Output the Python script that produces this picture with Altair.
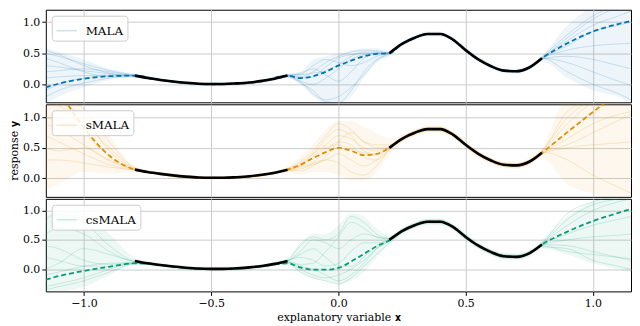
import altair as alt
import pandas as pd

# ---------------- data ----------------
X_GRID = [-1.15, -1.1, -1.0, -0.9, -0.8, -0.7, -0.6, -0.5, -0.4, -0.3, -0.2, -0.15, -0.1, -0.05,
          0.0, 0.05, 0.1, 0.15, 0.2, 0.25, 0.3, 0.35, 0.4, 0.45, 0.5, 0.55, 0.6, 0.65, 0.7, 0.75,
          0.8, 0.9, 1.0, 1.1, 1.15]

TRUE_LEFT_X = [-0.8, -0.75, -0.7, -0.65, -0.6, -0.55, -0.5, -0.45, -0.4, -0.35, -0.3, -0.25, -0.2]
TRUE_LEFT_Y = [0.14, 0.10, 0.07, 0.045, 0.025, 0.01, 0.005, 0.005, 0.015, 0.03, 0.055, 0.09, 0.14]
TRUE_RIGHT_X = [0.2, 0.25, 0.3, 0.35, 0.4, 0.45, 0.5, 0.55, 0.6, 0.65, 0.7, 0.75, 0.8]
TRUE_RIGHT_Y = [0.5, 0.65, 0.75, 0.81, 0.81, 0.72, 0.55, 0.40, 0.29, 0.22, 0.21, 0.27, 0.42]

METHODS = ["MALA", "sMALA", "csMALA"]
COLORS = ["#0173B2", "#DE8F05", "#029E73"]
Y_DOMAINS = [[-0.29, 1.2], [-0.31, 1.22], [-0.38, 1.2]]

MALA_MEAN = [-0.05, 0.01, 0.09, 0.13, 0.14, 0.07, 0.02, 0.0, 0.01, 0.05, 0.14, 0.10, 0.13, 0.20, 0.30, 0.38, 0.45, 0.49, 0.50, 0.65, 0.75, 0.81, 0.81, 0.72, 0.55, 0.40, 0.29, 0.22, 0.21, 0.27, 0.42, 0.66, 0.85, 0.97, 1.02]
MALA_LOW = [-0.30, -0.20, -0.05, 0.07, 0.11, 0.04, -0.01, -0.03, -0.02, 0.02, 0.10, 0.00, -0.20, -0.30, -0.30, -0.20, 0.10, 0.35, 0.46, 0.61, 0.71, 0.77, 0.77, 0.68, 0.51, 0.36, 0.25, 0.18, 0.17, 0.23, 0.37, 0.10, -0.10, -0.20, -0.30]
MALA_HIGH = [0.58, 0.52, 0.40, 0.25, 0.17, 0.10, 0.05, 0.03, 0.04, 0.08, 0.17, 0.20, 0.40, 0.45, 0.50, 0.55, 0.58, 0.58, 0.54, 0.69, 0.79, 0.85, 0.85, 0.76, 0.59, 0.44, 0.33, 0.26, 0.25, 0.31, 0.46, 0.95, 1.25, 1.40, 1.50]
MALA_SAMPLES = [
    [0.50, 0.45, 0.33, 0.22, 0.15, 0.08, 0.03, 0.01, 0.02, 0.06, 0.15, 0.12, 0.20, 0.35, 0.45, 0.52, 0.55, 0.54, 0.51, 0.66, 0.76, 0.82, 0.82, 0.73, 0.56, 0.41, 0.30, 0.23, 0.22, 0.28, 0.44, 0.80, 1.10, 1.30, 1.40],
    [0.30, 0.28, 0.22, 0.17, 0.13, 0.06, 0.01, -0.01, 0.00, 0.04, 0.13, 0.05, -0.15, -0.25, -0.20, -0.05, 0.15, 0.38, 0.49, 0.64, 0.74, 0.80, 0.80, 0.71, 0.54, 0.39, 0.28, 0.21, 0.20, 0.26, 0.41, 0.55, 0.62, 0.65, 0.66],
    [-0.20, -0.10, 0.02, 0.10, 0.14, 0.07, 0.02, 0.00, 0.01, 0.05, 0.14, 0.10, 0.12, 0.28, 0.42, 0.48, 0.50, 0.50, 0.50, 0.65, 0.75, 0.81, 0.81, 0.72, 0.55, 0.40, 0.29, 0.22, 0.21, 0.27, 0.42, 0.35, 0.20, 0.05, -0.02],
    [0.10, 0.12, 0.14, 0.15, 0.15, 0.08, 0.03, 0.01, 0.02, 0.06, 0.15, 0.16, 0.30, 0.40, 0.35, 0.30, 0.35, 0.45, 0.51, 0.66, 0.76, 0.82, 0.82, 0.73, 0.56, 0.41, 0.30, 0.23, 0.22, 0.28, 0.43, 0.70, 0.95, 1.10, 1.18],
    [0.42, 0.35, 0.20, 0.12, 0.12, 0.06, 0.01, -0.01, 0.00, 0.04, 0.12, 0.05, 0.00, 0.10, 0.25, 0.40, 0.48, 0.50, 0.49, 0.64, 0.74, 0.80, 0.80, 0.71, 0.54, 0.39, 0.28, 0.21, 0.20, 0.26, 0.41, 0.45, 0.40, 0.30, 0.25],
    [-0.10, 0.00, 0.10, 0.14, 0.14, 0.07, 0.02, 0.00, 0.01, 0.05, 0.14, 0.18, 0.25, 0.15, 0.05, 0.20, 0.42, 0.50, 0.50, 0.65, 0.75, 0.81, 0.81, 0.72, 0.55, 0.40, 0.29, 0.22, 0.21, 0.27, 0.42, 0.62, 0.85, 0.95, 1.00],
    [0.55, 0.48, 0.30, 0.18, 0.13, 0.07, 0.02, 0.00, 0.01, 0.05, 0.13, 0.02, -0.10, -0.28, -0.30, -0.10, 0.20, 0.40, 0.50, 0.65, 0.75, 0.81, 0.81, 0.72, 0.55, 0.40, 0.29, 0.22, 0.21, 0.27, 0.42, 0.20, 0.00, -0.15, -0.25],
    [0.20, 0.22, 0.25, 0.20, 0.14, 0.07, 0.02, 0.00, 0.01, 0.05, 0.14, 0.15, 0.18, 0.22, 0.32, 0.45, 0.52, 0.52, 0.50, 0.65, 0.75, 0.81, 0.81, 0.72, 0.55, 0.40, 0.29, 0.22, 0.21, 0.27, 0.42, 0.75, 1.05, 1.25, 1.35],
]

SMALA_MEAN = [1.75, 1.45, 0.83, 0.37, 0.14, 0.07, 0.02, 0.00, 0.01, 0.05, 0.14, 0.22, 0.33, 0.43, 0.50, 0.45, 0.38, 0.40, 0.50, 0.65, 0.75, 0.81, 0.81, 0.72, 0.55, 0.40, 0.29, 0.22, 0.21, 0.27, 0.42, 0.76, 1.09, 1.42, 1.58]
SMALA_LOW = [-0.20, -0.10, 0.10, 0.07, 0.10, 0.04, -0.01, -0.03, -0.02, 0.02, 0.09, 0.05, 0.10, 0.10, 0.05, -0.05, -0.05, 0.10, 0.38, 0.58, 0.69, 0.75, 0.75, 0.66, 0.49, 0.34, 0.23, 0.16, 0.15, 0.21, 0.33, -0.10, -0.25, -0.35, -0.35]
SMALA_HIGH = [1.30, 1.30, 1.15, 0.70, 0.20, 0.10, 0.05, 0.03, 0.04, 0.08, 0.20, 0.35, 0.55, 0.80, 0.95, 0.95, 0.85, 0.75, 0.65, 0.72, 0.81, 0.87, 0.87, 0.78, 0.61, 0.46, 0.35, 0.28, 0.27, 0.33, 0.50, 1.30, 1.30, 1.30, 1.30]
SMALA_SAMPLES = [
    [1.30, 1.20, 0.90, 0.50, 0.16, 0.08, 0.03, 0.01, 0.02, 0.06, 0.15, 0.25, 0.40, 0.55, 0.70, 0.65, 0.50, 0.45, 0.52, 0.67, 0.77, 0.83, 0.83, 0.74, 0.57, 0.42, 0.31, 0.24, 0.23, 0.29, 0.44, 0.90, 1.25, 1.40, 1.45],
    [0.70, 0.60, 0.40, 0.22, 0.13, 0.06, 0.01, -0.01, 0.00, 0.04, 0.12, 0.18, 0.22, 0.30, 0.40, 0.30, 0.20, 0.30, 0.48, 0.63, 0.73, 0.79, 0.79, 0.70, 0.53, 0.38, 0.27, 0.20, 0.19, 0.25, 0.40, 0.50, 0.55, 0.58, 0.60],
    [1.00, 0.95, 0.75, 0.35, 0.14, 0.07, 0.02, 0.00, 0.01, 0.05, 0.14, 0.20, 0.35, 0.50, 0.55, 0.48, 0.42, 0.38, 0.50, 0.65, 0.75, 0.81, 0.81, 0.72, 0.55, 0.40, 0.29, 0.22, 0.21, 0.27, 0.42, 0.75, 1.10, 1.30, 1.40],
    [0.30, 0.30, 0.25, 0.18, 0.13, 0.06, 0.01, -0.01, 0.00, 0.04, 0.13, 0.12, 0.20, 0.35, 0.60, 0.75, 0.60, 0.50, 0.50, 0.65, 0.75, 0.81, 0.81, 0.72, 0.55, 0.40, 0.29, 0.22, 0.21, 0.27, 0.43, 0.30, 0.05, -0.15, -0.25],
    [1.30, 1.30, 1.15, 0.60, 0.17, 0.09, 0.04, 0.02, 0.03, 0.07, 0.16, 0.28, 0.45, 0.70, 0.90, 0.80, 0.60, 0.55, 0.55, 0.68, 0.78, 0.84, 0.84, 0.75, 0.58, 0.43, 0.32, 0.25, 0.24, 0.30, 0.46, 1.00, 1.30, 1.40, 1.40],
    [0.50, 0.45, 0.50, 0.30, 0.14, 0.07, 0.02, 0.00, 0.01, 0.05, 0.14, 0.20, 0.25, 0.30, 0.25, 0.10, 0.05, 0.20, 0.46, 0.62, 0.72, 0.78, 0.78, 0.69, 0.52, 0.37, 0.26, 0.19, 0.18, 0.24, 0.40, 0.65, 0.90, 1.05, 1.10],
    [1.30, 1.25, 1.00, 0.45, 0.15, 0.07, 0.02, 0.00, 0.01, 0.05, 0.13, 0.15, 0.25, 0.45, 0.60, 0.55, 0.35, 0.30, 0.47, 0.64, 0.74, 0.80, 0.80, 0.71, 0.54, 0.39, 0.28, 0.21, 0.20, 0.26, 0.41, 0.55, 0.75, 0.95, 1.05],
    [0.90, 0.80, 0.55, 0.28, 0.14, 0.07, 0.02, 0.00, 0.01, 0.05, 0.14, 0.22, 0.40, 0.65, 0.80, 0.70, 0.45, 0.40, 0.51, 0.66, 0.76, 0.82, 0.82, 0.73, 0.56, 0.41, 0.30, 0.23, 0.22, 0.28, 0.44, 1.10, 1.30, 1.35, 1.35],
]

CSMALA_MEAN = [-0.18, -0.12, -0.03, 0.04, 0.10, 0.07, 0.02, 0.00, 0.01, 0.05, 0.10, 0.03, -0.01, -0.01, 0.02, 0.13, 0.26, 0.39, 0.49, 0.65, 0.75, 0.81, 0.81, 0.72, 0.55, 0.40, 0.29, 0.22, 0.21, 0.27, 0.42, 0.64, 0.82, 0.96, 1.03]
CSMALA_LOW = [-0.38, -0.38, -0.30, -0.10, 0.08, 0.03, -0.02, -0.04, -0.03, 0.01, 0.08, -0.05, -0.15, -0.20, -0.25, -0.20, -0.05, 0.20, 0.42, 0.59, 0.69, 0.75, 0.75, 0.66, 0.49, 0.34, 0.23, 0.16, 0.15, 0.21, 0.35, 0.25, 0.10, 0.00, -0.05]
CSMALA_HIGH = [0.90, 1.00, 0.95, 0.60, 0.20, 0.11, 0.06, 0.04, 0.05, 0.09, 0.20, 0.45, 0.60, 0.60, 0.75, 0.95, 0.90, 0.70, 0.58, 0.71, 0.81, 0.87, 0.87, 0.78, 0.61, 0.46, 0.35, 0.28, 0.27, 0.33, 0.50, 0.90, 1.15, 1.25, 1.30]
CSMALA_SAMPLES = [
    [0.60, 0.70, 0.60, 0.30, 0.12, 0.07, 0.02, 0.00, 0.01, 0.05, 0.14, 0.30, 0.50, 0.45, 0.35, 0.50, 0.60, 0.55, 0.51, 0.66, 0.76, 0.82, 0.82, 0.73, 0.56, 0.41, 0.30, 0.23, 0.22, 0.28, 0.43, 0.75, 1.00, 1.15, 1.20],
    [-0.30, -0.25, -0.15, 0.00, 0.10, 0.06, 0.01, -0.01, 0.00, 0.04, 0.12, 0.00, -0.10, -0.15, -0.10, 0.00, 0.15, 0.35, 0.48, 0.64, 0.74, 0.80, 0.80, 0.71, 0.54, 0.39, 0.28, 0.21, 0.20, 0.26, 0.41, 0.50, 0.55, 0.58, 0.60],
    [0.20, 0.15, 0.05, 0.05, 0.10, 0.07, 0.02, 0.00, 0.01, 0.05, 0.15, 0.20, 0.15, 0.05, 0.10, 0.30, 0.45, 0.45, 0.50, 0.65, 0.75, 0.81, 0.81, 0.72, 0.55, 0.40, 0.29, 0.22, 0.21, 0.27, 0.42, 0.40, 0.30, 0.20, 0.15],
    [0.00, 0.10, 0.35, 0.25, 0.13, 0.08, 0.03, 0.01, 0.02, 0.06, 0.13, 0.08, 0.10, 0.30, 0.55, 0.80, 0.70, 0.55, 0.52, 0.67, 0.77, 0.83, 0.83, 0.74, 0.57, 0.42, 0.31, 0.24, 0.23, 0.29, 0.44, 0.85, 1.10, 1.20, 1.25],
    [-0.35, -0.30, -0.20, -0.05, 0.09, 0.06, 0.01, -0.01, 0.00, 0.04, 0.12, 0.05, 0.00, -0.10, -0.20, -0.10, 0.10, 0.35, 0.49, 0.64, 0.74, 0.80, 0.80, 0.71, 0.54, 0.39, 0.28, 0.21, 0.20, 0.26, 0.42, 0.60, 0.75, 0.85, 0.90],
    [0.40, 0.35, 0.15, 0.08, 0.11, 0.07, 0.02, 0.00, 0.01, 0.05, 0.14, 0.25, 0.35, 0.20, 0.05, 0.05, 0.20, 0.40, 0.50, 0.65, 0.75, 0.81, 0.81, 0.72, 0.55, 0.40, 0.29, 0.22, 0.21, 0.27, 0.40, 0.30, 0.25, 0.20, 0.18],
    [0.85, 0.95, 0.80, 0.40, 0.13, 0.07, 0.02, 0.00, 0.01, 0.05, 0.15, 0.40, 0.55, 0.50, 0.60, 0.90, 0.80, 0.60, 0.53, 0.68, 0.78, 0.84, 0.84, 0.75, 0.58, 0.43, 0.32, 0.25, 0.24, 0.30, 0.45, 0.95, 1.15, 1.25, 1.28],
    [-0.10, -0.05, 0.05, 0.10, 0.11, 0.06, 0.01, -0.01, 0.00, 0.04, 0.10, -0.05, -0.15, -0.20, -0.25, -0.15, 0.05, 0.25, 0.45, 0.62, 0.72, 0.78, 0.78, 0.69, 0.52, 0.37, 0.26, 0.19, 0.18, 0.24, 0.38, 0.35, 0.15, 0.05, 0.00],
]

X_TICKS = [-1.0, -0.5, 0.0, 0.5, 1.0]
Y_TICKS = [0.0, 0.5, 1.0]
X_TITLE = "explanatory variable 𝐱"
Y_TITLE = "response 𝐲"

FONT = "DejaVu Serif"
W, H = 588, 93

# ---------------- tables ----------------
true_df = pd.DataFrame({
    "x": TRUE_LEFT_X + TRUE_RIGHT_X,
    "y": TRUE_LEFT_Y + TRUE_RIGHT_Y,
    "seg": ["a"] * len(TRUE_LEFT_X) + ["b"] * len(TRUE_RIGHT_X),
})


def panel(name, color, ydom, mean, low, high, samples, bottom, ytitle):
    band_df = pd.DataFrame({"x": X_GRID, "lo": low, "hi": high})
    mean_df = pd.DataFrame({"x": X_GRID, "y": mean})
    rows = []
    for i, s in enumerate(samples):
        for xv, yv in zip(X_GRID, s):
            rows.append({"x": xv, "y": yv, "s": i, "method": name})
    samp_df = pd.DataFrame(rows)

    xaxis = alt.Axis(values=X_TICKS, format=".1f", labels=bottom, ticks=bottom, grid=True,
                     title=X_TITLE if bottom else None)
    x = alt.X("x:Q", scale=alt.Scale(domain=[-1.15, 1.15], nice=False, zero=False), axis=xaxis)
    yscale = alt.Scale(domain=ydom, nice=False, zero=False)
    yaxis = alt.Axis(values=Y_TICKS, format=".1f", grid=True, title=Y_TITLE if ytitle else None)

    band = alt.Chart(band_df).mark_area(clip=True, opacity=0.07, color=color,
                                        interpolate="monotone").encode(
        x=x, y=alt.Y("lo:Q", scale=yscale, axis=yaxis), y2="hi:Q")
    lines = alt.Chart(samp_df).mark_line(clip=True, strokeWidth=1,
                                         interpolate="monotone").encode(
        x=x, y=alt.Y("y:Q", scale=yscale, axis=yaxis), detail="s:N",
        color=alt.Color("method:N", scale=alt.Scale(domain=[name], range=[color]),
                        legend=alt.Legend(orient="top-left", title=None, offset=6,
                                          fillColor="rgba(255,255,255,0.85)",
                                          strokeColor="#cccccc", cornerRadius=3,
                                          padding=4, symbolType="stroke",
                                          symbolSize=420, symbolStrokeWidth=1.5,
                                          symbolOpacity=0.2, labelFont=FONT,
                                          labelFontSize=12, labelColor="black",
                                          labelOffset=8, zindex=1)),
        opacity=alt.value(0.18))
    meanl = alt.Chart(mean_df).mark_line(clip=True, color=color, strokeWidth=1.8,
                                         strokeDash=[5, 3], interpolate="monotone").encode(
        x=x, y=alt.Y("y:Q", scale=yscale, axis=yaxis))
    truel = alt.Chart(true_df).mark_line(clip=True, color="black", strokeWidth=2.6,
                                         interpolate="monotone").encode(
        x=x, y=alt.Y("y:Q", scale=yscale, axis=yaxis), detail="seg:N")
    return alt.layer(band, lines, meanl, truel).properties(width=W, height=H)


panels = [
    panel("MALA", COLORS[0], Y_DOMAINS[0], MALA_MEAN, MALA_LOW, MALA_HIGH, MALA_SAMPLES, False, False),
    panel("sMALA", COLORS[1], Y_DOMAINS[1], SMALA_MEAN, SMALA_LOW, SMALA_HIGH, SMALA_SAMPLES, False, True),
    panel("csMALA", COLORS[2], Y_DOMAINS[2], CSMALA_MEAN, CSMALA_LOW, CSMALA_HIGH, CSMALA_SAMPLES, True, False),
]

chart = alt.vconcat(*panels, spacing=0).resolve_scale(
    color="independent", y="independent"
).resolve_legend(color="independent").properties(
    padding={"left": 0, "top": 0, "right": 0, "bottom": 0}
).configure_view(
    stroke="black", strokeWidth=1
).configure_axis(
    labelFont=FONT, titleFont=FONT, labelFontSize=11, titleFontSize=11,
    titleFontWeight="normal", labelColor="black", titleColor="black",
    gridColor="#cccccc", gridWidth=1, domain=False, tickColor="black", tickSize=4,
    labelPadding=2, titlePadding=3
)

chart.save("out.html", embed_options={"renderer": "svg", "actions": False})
